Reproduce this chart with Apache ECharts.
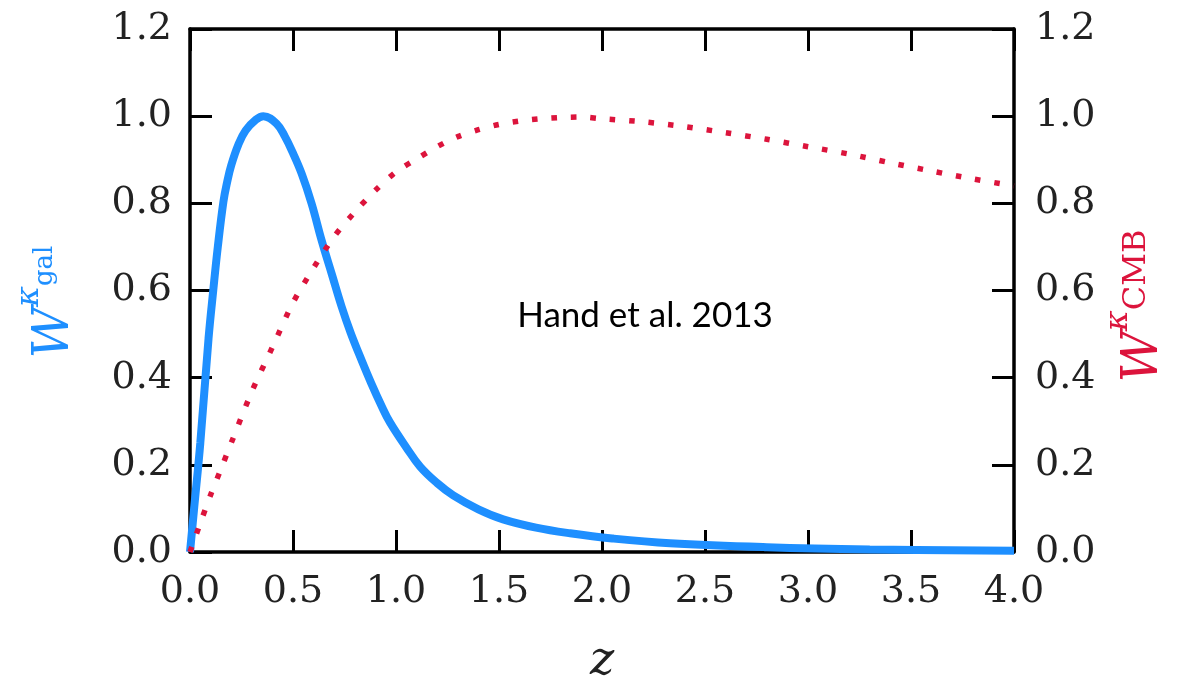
<!DOCTYPE html>
<html>
<head>
<meta charset="utf-8">
<script src="https://cdn.jsdelivr.net/npm/echarts@6/dist/echarts.min.js"></script>
<style>
html,body{margin:0;padding:0;background:#fff;}
#chart{width:1181px;height:680px;}
</style>
</head>
<body>
<div id="chart"></div>
<script>
// Lensing kernel of galaxies (blue, left axis)
const galZ = [0, 0.02, 0.05, 0.09, 0.113, 0.135, 0.162, 0.18, 0.2, 0.235, 0.27, 0.32, 0.356, 0.42, 0.461, 0.5, 0.542, 0.59, 0.639, 0.69, 0.736, 0.78, 0.833, 0.88, 0.93, 0.97, 1.05, 1.117, 1.2, 1.278, 1.4, 1.52, 1.68, 1.845, 2.05, 2.33, 2.8, 3.3, 4.0];
const galW = [0, 0.10, 0.25, 0.49, 0.601, 0.70, 0.803, 0.848, 0.887, 0.935, 0.967, 0.992, 1.0, 0.983, 0.953, 0.915, 0.868, 0.80, 0.715, 0.635, 0.563, 0.503, 0.44, 0.387, 0.335, 0.298, 0.24, 0.196, 0.158, 0.13, 0.098, 0.075, 0.056, 0.043, 0.031, 0.020, 0.011, 0.006, 0.003];
// CMB lensing kernel (red dotted, right axis)
const cmbZ = [0, 0.05, 0.1, 0.15, 0.2, 0.3, 0.4, 0.5, 0.6, 0.7, 0.8, 0.9, 1.0, 1.1, 1.2, 1.3, 1.4, 1.5, 1.6, 1.7, 1.8, 1.9, 2.0, 2.2, 2.4, 2.6, 2.8, 3.0, 3.2, 3.4, 3.6, 3.8, 4.0];
const cmbW = [0, 0.066, 0.131, 0.19, 0.25, 0.368, 0.47, 0.572, 0.652, 0.724, 0.78, 0.83, 0.872, 0.902, 0.93, 0.953, 0.969, 0.981, 0.989, 0.994, 0.997, 0.998, 0.994, 0.987, 0.976, 0.962, 0.947, 0.930, 0.913, 0.893, 0.874, 0.856, 0.84];

const xTicks = { min: 0, max: 4, interval: 0.5 };
const yTicks = { min: 0, max: 1.2, interval: 0.2 };
const annotation = 'Hand et al. 2013';

const BLUE = '#1e8fff';
const RED = '#dc143c';
const SERIF = '"DejaVu Serif", "Liberation Serif", serif';

const frameLine = { show: true, onZero: false, lineStyle: { color: '#000', width: 3.5 } };
const tickIn = { show: true, inside: true, length: 22, lineStyle: { color: '#000', width: 3 } };
const lbl = { fontFamily: SERIF, fontSize: 38, color: '#222' };

function kernelLabel(sub, color, subSize, subPad) {
  return {
    text: '{w|W}{k|κ}{s|' + sub + '}',
    align: 'center', verticalAlign: 'middle',
    rich: {
      w: { fontFamily: SERIF, fontStyle: 'italic', fontSize: 50, fill: color },
      k: { fontFamily: SERIF, fontStyle: 'italic', fontSize: 32, fill: color, padding: [0, 0, 50, 0] },
      s: { fontFamily: SERIF, fontSize: subSize, fill: color, padding: [0, 0, subPad, 0] }
    }
  };
}

const chart = echarts.init(document.getElementById('chart'));
chart.setOption({
  animation: false,
  backgroundColor: '#fff',
  grid: { left: 190, right: 167, top: 29, bottom: 128, containLabel: false, outerBoundsMode: 'none' },
  xAxis: [
    {
      type: 'value', min: xTicks.min, max: xTicks.max, interval: xTicks.interval,
      position: 'bottom',
      axisLine: frameLine, axisTick: tickIn, splitLine: { show: false },
      axisLabel: Object.assign({ margin: 21, formatter: v => v.toFixed(1) }, lbl),
      name: 'z', nameLocation: 'middle', nameGap: 87,
      nameTextStyle: { fontFamily: SERIF, fontStyle: 'italic', fontSize: 46, color: '#222' }
    },
    {
      type: 'value', min: xTicks.min, max: xTicks.max, interval: xTicks.interval,
      position: 'top',
      axisLine: frameLine, axisTick: tickIn, splitLine: { show: false },
      axisLabel: { show: false }
    }
  ],
  yAxis: [
    {
      type: 'value', min: yTicks.min, max: yTicks.max, interval: yTicks.interval,
      position: 'left',
      axisLine: frameLine, axisTick: tickIn, splitLine: { show: false },
      axisLabel: Object.assign({ margin: 18, formatter: v => v.toFixed(1) }, lbl)
    },
    {
      type: 'value', min: yTicks.min, max: yTicks.max, interval: yTicks.interval,
      position: 'right',
      axisLine: frameLine, axisTick: tickIn, splitLine: { show: false },
      axisLabel: Object.assign({ margin: 21, formatter: v => v.toFixed(1) }, lbl)
    }
  ],
  graphic: [
    { type: 'text', x: 55, y: 302, rotation: Math.PI / 2, style: kernelLabel('gal', BLUE, 26, 20) },
    { type: 'text', x: 1144, y: 306, rotation: Math.PI / 2, style: kernelLabel('CMB', RED, 32, 14) },
    {
      type: 'text', x: 645, y: 316,
      style: {
        text: annotation, fontFamily: 'Lato, "Open Sans", sans-serif', fontSize: 35,
        fill: '#000', align: 'center', verticalAlign: 'middle'
      }
    }
  ],
  series: [
    {
      type: 'line', xAxisIndex: 0, yAxisIndex: 1, smooth: 0.3, showSymbol: false, z: 3,
      data: cmbZ.map((z, i) => [z, cmbW[i]]),
      lineStyle: { color: RED, width: 5.5, type: [5.5, 14], cap: 'butt' }
    },
    {
      type: 'line', xAxisIndex: 0, yAxisIndex: 0, smooth: 0.4, showSymbol: false, z: 2,
      data: galZ.map((z, i) => [z, galW[i]]),
      lineStyle: { color: BLUE, width: 8 }
    }
  ]
});
</script>
</body>
</html>
